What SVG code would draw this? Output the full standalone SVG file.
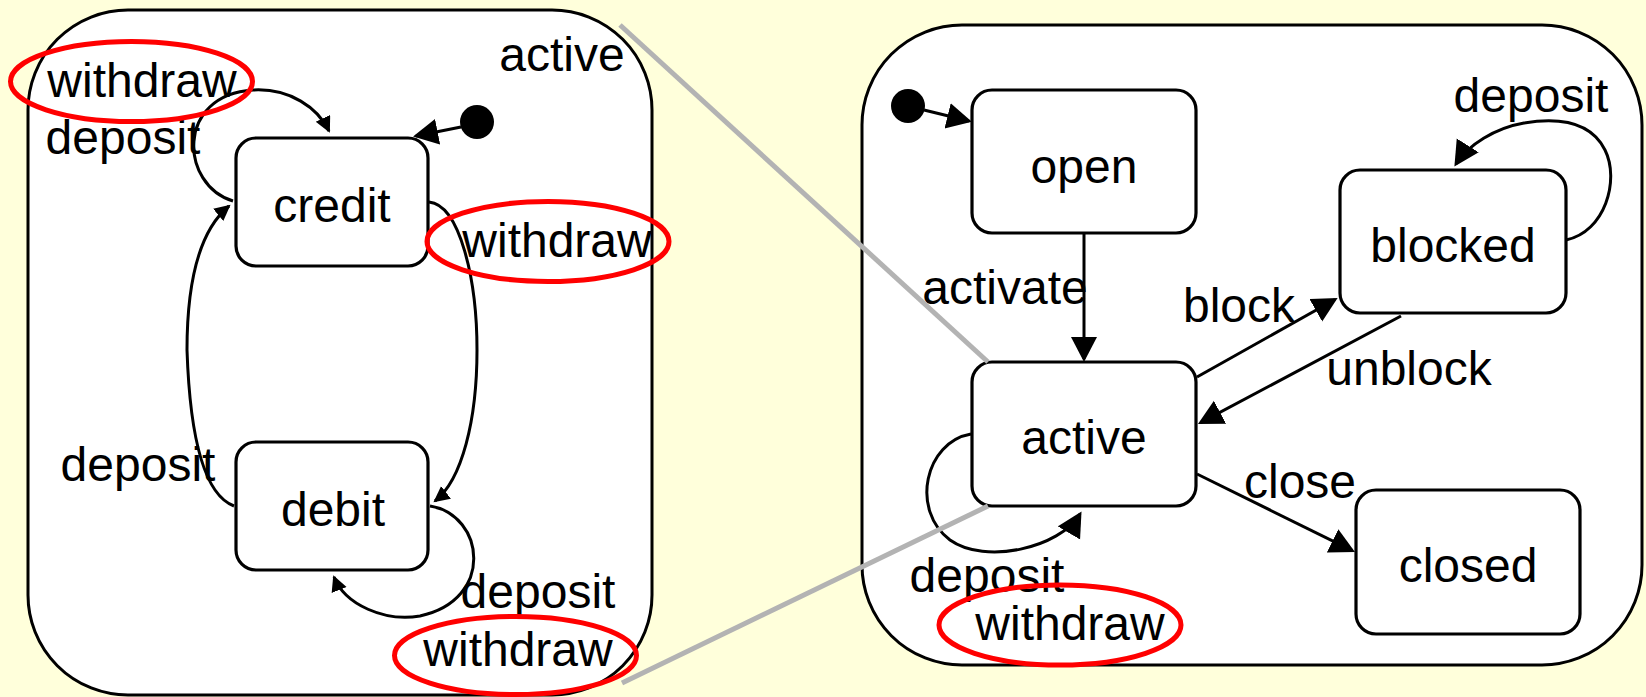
<svg xmlns="http://www.w3.org/2000/svg" width="1646" height="697" viewBox="0 0 1646 697">
  <style>
    .bg { fill: #ffffdb; }
    .region { fill: #ffffff; stroke: #000000; stroke-width: 3; }
    .state { fill: #ffffff; stroke: #000000; stroke-width: 3.2; }
    .init { fill: #000000; }
    .edge { fill: none; stroke: #000000; stroke-width: 3; }
    .txt { font-family: "Liberation Sans", Arial, sans-serif; font-size: 48px; fill: #000000; text-anchor: middle; }
    .zoomline { stroke: #b3b3b3; stroke-width: 5; fill: none; }
    .mark { fill: none; stroke: #ff0000; stroke-width: 5; }
  </style>
  <defs>
    <marker id="head" markerUnits="userSpaceOnUse" markerWidth="28" markerHeight="28" refX="22" refY="13" orient="auto">
      <path d="M0,0 L25,13 L0,26 z" fill="#000000"/>
    </marker>
    <marker id="head-small" markerUnits="userSpaceOnUse" markerWidth="20" markerHeight="18" refX="14" refY="8" orient="auto">
      <path d="M0,0 L16,8 L0,16 z" fill="#000000"/>
    </marker>
  </defs>

  <rect class="bg" x="0" y="0" width="1646" height="697"/>

  <!-- composite state "active" (detail view) -->
  <g id="region-active-detail">
    <rect class="region" x="28" y="10" width="624" height="685" rx="100" ry="100"/>
    <text class="txt" x="562" y="71">active</text>
  </g>

  <!-- account lifecycle region -->
  <g id="region-account">
    <rect class="region" x="862" y="25" width="780" height="640" rx="100" ry="100"/>
  </g>

  <!-- states inside "active" -->
  <g id="init-left">
    <circle class="init" cx="477" cy="122" r="17"/>
  </g>
  <g id="state-credit">
    <rect class="state" x="236" y="138" width="192" height="128" rx="20" ry="20"/>
    <text class="txt" x="332" y="222">credit</text>
  </g>
  <g id="state-debit">
    <rect class="state" x="236" y="442" width="192" height="128" rx="20" ry="20"/>
    <text class="txt" x="333" y="526">debit</text>
  </g>

  <!-- account lifecycle states -->
  <g id="init-right">
    <circle class="init" cx="908" cy="106" r="17"/>
  </g>
  <g id="state-open">
    <rect class="state" x="972" y="90" width="224" height="143" rx="20" ry="20"/>
    <text class="txt" x="1084" y="183">open</text>
  </g>
  <g id="state-active">
    <rect class="state" x="972" y="362" width="224" height="144" rx="20" ry="20"/>
    <text class="txt" x="1084" y="454">active</text>
  </g>
  <g id="state-blocked">
    <rect class="state" x="1340" y="170" width="226" height="143" rx="20" ry="20"/>
    <text class="txt" x="1453" y="262">blocked</text>
  </g>
  <g id="state-closed">
    <rect class="state" x="1356" y="490" width="224" height="144" rx="20" ry="20"/>
    <text class="txt" x="1468" y="582">closed</text>
  </g>

  <!-- transitions -->
  <g id="connectors">
    <!-- inside "active" -->
    <path class="edge" d="M 461 127 L 416 136" marker-end="url(#head)"/>
    <path class="edge" d="M 233 201 C 180 185, 175 95, 253 90 C 290 88, 318 108, 329 131" marker-end="url(#head-small)"/>
    <path class="edge" d="M 429 202 C 460 205, 477 280, 477 350 C 477 420, 462 480, 435 501" marker-end="url(#head-small)"/>
    <path class="edge" d="M 234 506 C 205 495, 190 440, 187 350 C 187 280, 200 230, 229 206" marker-end="url(#head-small)"/>
    <path class="edge" d="M 430 506 C 485 515, 495 600, 420 616 C 385 622, 345 605, 334 577" marker-end="url(#head-small)"/>
    <text class="txt" x="142" y="97">withdraw</text>
    <text class="txt" x="123" y="154">deposit</text>
    <text class="txt" x="557" y="257">withdraw</text>
    <text class="txt" x="138" y="481">deposit</text>
    <text class="txt" x="538" y="608">deposit</text>
    <text class="txt" x="518" y="666">withdraw</text>

    <!-- account lifecycle -->
    <path class="edge" d="M 924 110 L 969 121" marker-end="url(#head)"/>
    <path class="edge" d="M 1084 233 L 1084 359" marker-end="url(#head)"/>
    <path class="edge" d="M 1197 377 L 1335 299.5" marker-end="url(#head)"/>
    <path class="edge" d="M 1401 316 L 1200.6 422.6" marker-end="url(#head)"/>
    <path class="edge" d="M 1197 474 L 1352.3 550.7" marker-end="url(#head)"/>
    <path class="edge" d="M 1566 240 C 1605 232, 1620 180, 1605 150 C 1590 120, 1555 118, 1524 123 C 1495 128, 1468 145, 1456 164" marker-end="url(#head)"/>
    <path class="edge" d="M 971 434 C 925 442, 910 510, 950 540 C 985 565, 1060 548, 1080 514" marker-end="url(#head)"/>
    <text class="txt" x="1005" y="304">activate</text>
    <text class="txt" x="1239" y="322">block</text>
    <text class="txt" x="1531" y="112">deposit</text>
    <text class="txt" x="1409" y="385">unblock</text>
    <text class="txt" x="1300" y="498">close</text>
    <text class="txt" x="987" y="592">deposit</text>
    <text class="txt" x="1070" y="640">withdraw</text>
  </g>

  <!-- zoom lines tying the detail view to the "active" state -->
  <g id="zoom-lines">
    <line class="zoomline" x1="620" y1="25" x2="988" y2="362"/>
    <line class="zoomline" x1="622" y1="683" x2="988" y2="506"/>
  </g>

  <!-- highlighted withdraw events -->
  <g id="highlights">
    <ellipse class="mark" cx="131.5" cy="81.5" rx="121" ry="40"/>
    <ellipse class="mark" cx="548" cy="241.5" rx="121" ry="40"/>
    <ellipse class="mark" cx="515.5" cy="655.5" rx="121" ry="39"/>
    <ellipse class="mark" cx="1060" cy="625" rx="121" ry="40"/>
  </g>
</svg>
